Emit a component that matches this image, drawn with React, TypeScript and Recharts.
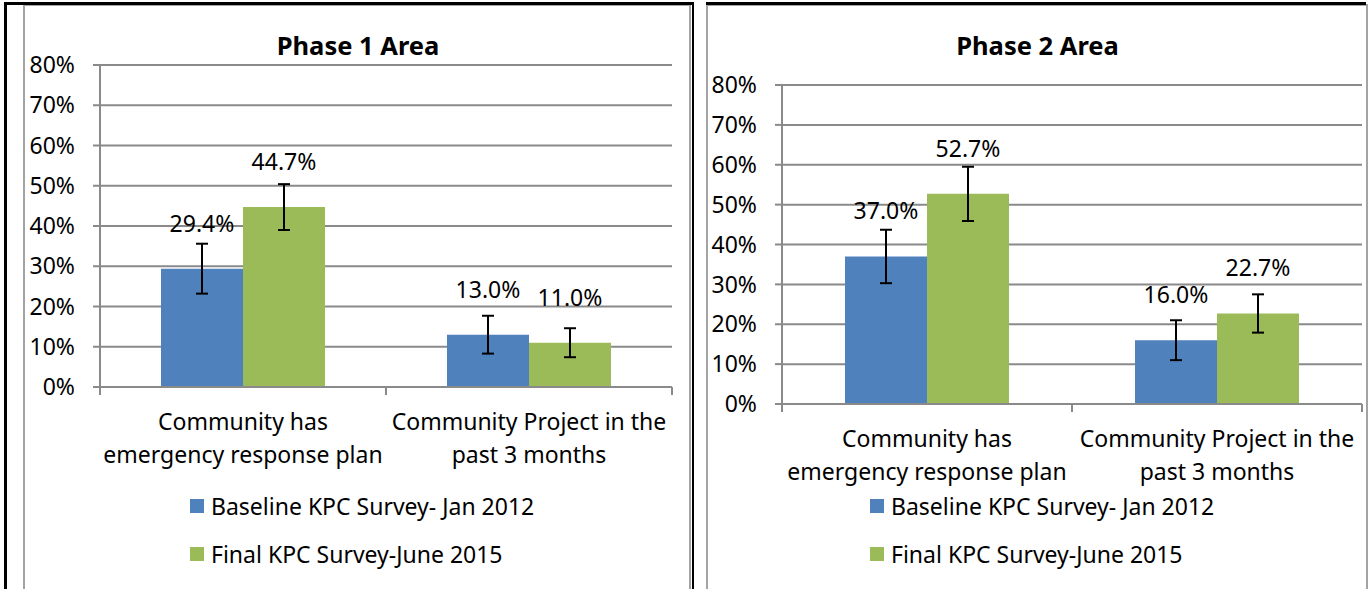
import React from "react";
import { BarChart, Bar, XAxis, YAxis, CartesianGrid, ErrorBar, LabelList, Legend } from "recharts";

// categories use "\n" where the original label wraps
const categories = ["Community has\nemergency response plan", "Community Project in the\npast 3 months"];
const seriesNames = ["Baseline KPC Survey- Jan 2012", "Final KPC Survey-June 2015"];
const yTicks = [0, 10, 20, 30, 40, 50, 60, 70, 80];

const phase1Baseline = [29.4, 13.0];
const phase1Final = [44.7, 11.0];
const phase1BaselineErr = [6.2, 4.7];
const phase1FinalErr = [5.7, 3.6];

const phase2Baseline = [37.0, 16.0];
const phase2Final = [52.7, 22.7];
const phase2BaselineErr = [6.7, 5.0];
const phase2FinalErr = [6.8, 4.8];

const BLUE = "#4F81BD";
const GREEN = "#9BBB59";
const GRID = "#8a8a8a";
const FONT = "'Noto Sans', sans-serif";
const FS = 23;
const H = 589;

function valueLabel(props: any) {
  const { x, y, width, value } = props;
  return (
    <text x={x + width / 2} y={y - 46} textAnchor="middle" dominantBaseline="central" fontSize={FS} fill="#000">
      {Number(value).toFixed(1)}%
    </text>
  );
}

function LegendBox() {
  const colors = [BLUE, GREEN];
  return (
    <div style={{ fontFamily: FONT, fontSize: FS, color: "#000", whiteSpace: "nowrap" }}>
      {seriesNames.map((name, i) => (
        <div key={name} style={{ display: "flex", alignItems: "center", height: 48 }}>
          <span style={{ width: 14, height: 14, background: colors[i], marginRight: 7, display: "inline-block" }} />
          <span>{name}</span>
        </div>
      ))}
    </div>
  );
}

interface PanelProps {
  title: string;
  baseline: number[];
  final: number[];
  baselineErr: number[];
  finalErr: number[];
  left: number;
  width: number;
  plotTop: number;
  plotBottom: number;
  axisWidth: number;
  rightGap: number;
  legendLeft: number;
}

function AreaPanel({ title, baseline, final, baselineErr, finalErr, left, width, plotTop, plotBottom, axisWidth, rightGap, legendLeft }: PanelProps) {
  const data = categories.map((name, i) => ({
    name,
    baseline: baseline[i],
    final: final[i],
    baselineErr: baselineErr[i],
    finalErr: finalErr[i],
  }));
  const band = (width - axisWidth - rightGap) / categories.length;

  const categoryTick = (props: any) => {
    const { x, y, payload, index } = props;
    const lines = String(payload.value).split("\n");
    return (
      <g>
        <line x1={x - band / 2} x2={x - band / 2} y1={y} y2={y + 8} stroke={GRID} strokeWidth={2} />
        {index === categories.length - 1 && (
          <line x1={x + band / 2} x2={x + band / 2} y1={y} y2={y + 8} stroke={GRID} strokeWidth={2} />
        )}
        {lines.map((line, i) => (
          <text key={i} x={x} y={y + 34 + i * 33} textAnchor="middle" dominantBaseline="central" fontSize={FS} fill="#000">
            {line}
          </text>
        ))}
      </g>
    );
  };

  return (
    <div style={{ position: "absolute", left, top: 0, width, height: H }}>
      <div
        style={{
          position: "absolute",
          left: 0,
          right: 0,
          top: 28,
          textAlign: "center",
          fontWeight: 700,
          fontSize: 25.5,
          lineHeight: "34px",
        }}
      >
        {title}
      </div>
      <BarChart
        width={width}
        height={H}
        data={data}
        margin={{ top: plotTop, right: rightGap, left: 0, bottom: H - plotBottom - 100 }}
        barGap={0}
        barSize={82}
      >
        <CartesianGrid vertical={false} stroke={GRID} strokeWidth={2} />
        <XAxis
          dataKey="name"
          height={100}
          interval={0}
          axisLine={{ stroke: GRID, strokeWidth: 2 }}
          tickLine={false}
          tickSize={0}
          tickMargin={0}
          tick={categoryTick}
        />
        <YAxis
          domain={[0, 80]}
          ticks={yTicks}
          width={axisWidth}
          axisLine={{ stroke: GRID, strokeWidth: 2 }}
          tickLine={{ stroke: GRID, strokeWidth: 2 }}
          tickSize={7}
          tickMargin={18}
          tick={{ fill: "#000", fontSize: FS }}
          tickFormatter={(v: number) => `${v}%`}
        />
        <Bar dataKey="baseline" name={seriesNames[0]} fill={BLUE} isAnimationActive={false}>
          <ErrorBar dataKey="baselineErr" width={6} stroke="#000" strokeWidth={2} direction="y" />
          <LabelList dataKey="baseline" content={valueLabel} />
        </Bar>
        <Bar dataKey="final" name={seriesNames[1]} fill={GREEN} isAnimationActive={false}>
          <ErrorBar dataKey="finalErr" width={6} stroke="#000" strokeWidth={2} direction="y" />
          <LabelList dataKey="final" content={valueLabel} />
        </Bar>
        <Legend
          layout="vertical"
          align="center"
          verticalAlign="middle"
          wrapperStyle={{ left: legendLeft, top: 482, width: 420 }}
          content={() => <LegendBox />}
        />
      </BarChart>
    </div>
  );
}

export default function App() {
  const black = "#000";
  const frame = "2px solid #a3a3a3";
  return (
    <div
      style={{
        position: "absolute",
        left: 0,
        top: 0,
        width: 1369,
        height: H,
        overflow: "hidden",
        background: "#fff",
        fontFamily: FONT,
        color: "#000",
      }}
    >
      <div style={{ position: "absolute", left: 23, top: 4, width: 668, height: 620, border: frame, boxSizing: "border-box" }} />
      <div style={{ position: "absolute", left: 706, top: 4, width: 662, height: 620, border: frame, boxSizing: "border-box" }} />
      <div style={{ position: "absolute", left: 4, top: 2, width: 690, height: 3, background: black }} />
      <div style={{ position: "absolute", left: 706, top: 2, width: 660, height: 3, background: black }} />
      <div style={{ position: "absolute", left: 4, top: 2, width: 3, height: H, background: black }} />
      <div style={{ position: "absolute", left: 692, top: 2, width: 2, height: H, background: black }} />

      <AreaPanel
        title="Phase 1 Area"
        baseline={phase1Baseline}
        final={phase1Final}
        baselineErr={phase1BaselineErr}
        finalErr={phase1FinalErr}
        left={24}
        width={668}
        plotTop={65}
        plotBottom={387}
        axisWidth={76}
        rightGap={20}
        legendLeft={166}
      />
      <AreaPanel
        title="Phase 2 Area"
        baseline={phase2Baseline}
        final={phase2Final}
        baselineErr={phase2BaselineErr}
        finalErr={phase2FinalErr}
        left={707}
        width={661}
        plotTop={85}
        plotBottom={404}
        axisWidth={75}
        rightGap={6}
        legendLeft={163}
      />
    </div>
  );
}
